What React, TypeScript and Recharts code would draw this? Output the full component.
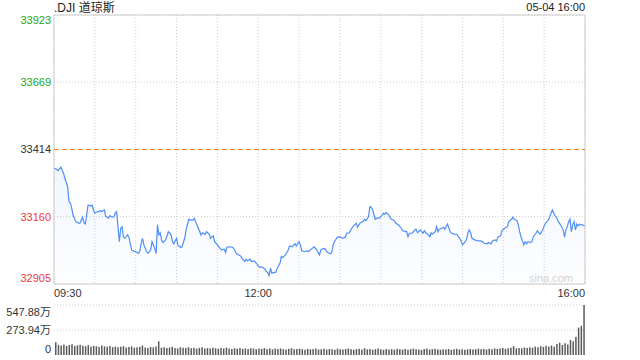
import React from 'react';
import {
  AreaChart,
  Area,
  XAxis,
  YAxis,
  CartesianGrid,
  ReferenceLine,
  ReferenceArea,
  BarChart,
  Bar,
} from 'recharts';

const FONT = 'Arial, "Liberation Sans", "Noto Sans CJK SC", sans-serif';
const GREEN = '#22a722';
const RED = '#f03a3a';
const DARK = '#333333';
const LINE = '#4e8ef7';

const titleText = '.DJI 道琼斯';
const dateText = '05-04 16:00';
const watermark = 'sina.com';

const prevClose = 33414;
const priceTicks = [32905, 33160, 33414, 33669, 33923];
const gridMinutes = [0, 30, 60, 90, 120, 150, 180, 210, 240, 270, 300, 330, 360, 390];
const timeLabelMinutes = [0, 150, 390];
const timeLabels = ['09:30', '12:00', '16:00'];
const volumeTicks = [0, 273.94, 547.88];

const priceMinutes = [
  0, 2, 3, 5, 7, 8, 10, 11, 12, 13, 14, 16, 18, 19, 21, 22, 23, 24, 25, 27, 28, 29, 30, 32, 33, 34, 35, 37, 38, 39,
  40, 41, 43, 44, 45, 46, 47, 48, 49, 50, 51, 52, 54, 55, 57, 59, 60, 62, 63, 64, 65, 66, 68, 69, 71, 72, 74, 75, 76, 77,
  78, 79, 80, 82, 84, 86, 87, 88, 90, 91, 93, 94, 96, 97, 99, 100, 102, 103, 104, 106, 108, 109, 111, 112, 114, 115, 116, 117, 118, 120,
  122, 123, 125, 126, 127, 129, 131, 132, 134, 137, 138, 140, 141, 142, 144, 145, 147, 149, 150, 151, 153, 155, 156, 157, 158, 159, 160, 161, 163, 164,
  166, 167, 168, 170, 172, 173, 175, 177, 178, 180, 181, 182, 184, 186, 187, 189, 191, 193, 195, 196, 198, 199, 201, 203, 204, 205, 206, 208, 210, 212,
  214, 215, 217, 218, 219, 220, 222, 223, 224, 225, 227, 228, 229, 231, 232, 233, 234, 236, 237, 239, 241, 242, 243, 244, 246, 247, 248, 250, 251, 253,
  255, 256, 258, 259, 260, 261, 263, 264, 265, 266, 267, 269, 270, 271, 272, 273, 275, 276, 277, 278, 280, 281, 282, 283, 285, 286, 287, 288, 289, 291,
  292, 294, 296, 297, 298, 299, 300, 302, 303, 304, 305, 306, 307, 309, 311, 314, 316, 318, 319, 321, 322, 324, 325, 326, 328, 329, 331, 333, 334, 336,
  337, 338, 340, 341, 342, 343, 344, 345, 346, 347, 348, 350, 351, 352, 354, 355, 356, 357, 359, 360, 361, 363, 364, 365, 366, 368, 369, 370, 371, 372,
  374, 375, 376, 377, 378, 379, 380, 381, 382, 383, 384, 385, 386, 387, 388, 390,
];

const priceValues = [
  33343, 33339, 33334, 33347, 33324, 33305, 33274, 33217, 33211, 33192, 33166, 33141, 33135, 33135, 33158, 33137, 33132, 33166, 33204, 33200, 33204, 33185, 33173, 33179, 33179, 33183, 33179, 33185, 33160, 33158,
  33154, 33163, 33158, 33160, 33173, 33179, 33122, 33065, 33116, 33122, 33082, 33078, 33091, 33082, 33034, 33028, 33028, 33021, 33028, 33059, 33078, 33053, 33028, 33021, 33034, 33065, 33040, 33021, 33129, 33091,
  33099, 33072, 33062, 33072, 33103, 33091, 33065, 33057, 33078, 33053, 33043, 33046, 33078, 33110, 33150, 33147, 33147, 33154, 33141, 33116, 33091, 33099, 33093, 33103, 33094, 33078, 33084, 33087, 33065, 33053,
  33040, 33034, 33037, 33024, 33044, 33046, 33044, 33040, 33019, 33011, 33003, 32990, 32999, 32993, 32999, 32990, 32992, 32981, 32973, 32969, 32969, 32961, 32952, 32948, 32937, 32965, 32946, 32948, 32950, 32965,
  32984, 33009, 33005, 33015, 33034, 33049, 33046, 33057, 33049, 33065, 33053, 33030, 33028, 33030, 33028, 33037, 33046, 33034, 33015, 33034, 33040, 33038, 33024, 33019, 33024, 33053, 33065, 33082, 33084, 33078,
  33082, 33097, 33099, 33110, 33118, 33125, 33135, 33120, 33129, 33137, 33141, 33150, 33145, 33160, 33198, 33196, 33185, 33150, 33154, 33154, 33166, 33173, 33169, 33175, 33166, 33154, 33150, 33145, 33135, 33129,
  33116, 33107, 33103, 33103, 33084, 33097, 33097, 33103, 33110, 33112, 33099, 33110, 33103, 33097, 33107, 33099, 33091, 33084, 33099, 33094, 33103, 33122, 33103, 33112, 33116, 33120, 33112, 33122, 33132, 33103,
  33097, 33094, 33093, 33084, 33078, 33068, 33053, 33065, 33074, 33099, 33110, 33099, 33078, 33072, 33069, 33067, 33059, 33057, 33062, 33057, 33068, 33072, 33068, 33082, 33087, 33107, 33116, 33122, 33141, 33150,
  33158, 33150, 33145, 33129, 33103, 33084, 33069, 33053, 33065, 33057, 33065, 33062, 33065, 33084, 33097, 33107, 33099, 33094, 33110, 33125, 33135, 33147, 33158, 33173, 33185, 33163, 33158, 33145, 33137, 33129,
  33110, 33082, 33110, 33122, 33141, 33150, 33103, 33129, 33141, 33110, 33132, 33125, 33131, 33129, 33129, 33125,
];

// volume in 万, one bar every two minutes from 09:30
const volumeValues = [
  140, 112, 104, 116, 100, 110, 118, 98, 106, 112,
  102, 96, 108, 92, 100, 96, 88, 104, 94, 90,
  98, 86, 92, 84, 90, 96, 82, 88, 94, 80,
  86, 90, 104, 82, 78, 88, 84, 92, 150, 80,
  86, 76, 82, 90, 78, 72, 84, 80, 76, 86,
  74, 80, 70, 78, 84, 72, 76, 70, 80, 74,
  68, 76, 72, 82, 70, 66, 74, 70, 78, 68,
  72, 66, 74, 70, 64, 72, 68, 76, 66, 70,
  62, 70, 66, 72, 64, 60, 68, 74, 62, 66,
  70, 64, 58, 68, 62, 66, 72, 60, 64, 68,
  60, 66, 62, 58, 70, 64, 60, 66, 72, 62,
  58, 64, 68, 60, 74, 62, 66, 58, 64, 70,
  62, 56, 66, 60, 64, 58, 68, 62, 60, 66,
  58, 64, 70, 62, 60, 56, 66, 72, 60, 64,
  68, 62, 58, 64, 60, 66, 56, 62, 68, 60,
  64, 58, 62, 66, 60, 64, 70, 62, 66, 60,
  68, 64, 72, 66, 70, 76, 68, 74, 80, 96,
  72, 78, 74, 82, 78, 86, 80, 92, 84, 96,
  88, 100, 94, 105, 90, 120, 135, 110, 130, 115,
  165, 150, 200, 300, 320, 547.88,
];

const priceData = priceMinutes.map((m, i) => ({ m, p: priceValues[i] }));
const volumeData = volumeValues.map((v, i) => ({ m: i * 2, v }));
const gridPriceValues = priceTicks.filter((t) => t !== prevClose);

const pctLabel = (v: number) => {
  const pct = ((v - prevClose) / prevClose) * 100;
  const s = pct.toFixed(2);
  return pct > 0.0001 ? `+${s}%` : pct < -0.0001 ? `${s}%` : '0.00%';
};

const colorFor = (v: number) => (v > prevClose ? GREEN : v < prevClose ? RED : DARK);

const edgeShift = (v: number, ticks: number[], top: number, bottom: number) =>
  v === ticks[ticks.length - 1] ? top : v === ticks[0] ? bottom : 0;

const LeftPriceTick = (props: any) => {
  const { x, y, payload } = props;
  const v = payload.value as number;
  return (
    <text x={x} y={y + edgeShift(v, priceTicks, 5, -6)} dy="0.355em" textAnchor="end" fill={colorFor(v)} fontSize={11} fontFamily={FONT}>
      {v}
    </text>
  );
};

const RightPriceTick = (props: any) => {
  const { x, y, payload } = props;
  const v = payload.value as number;
  return (
    <text x={x} y={y + edgeShift(v, priceTicks, 5, -6)} dy="0.355em" textAnchor="start" fill={colorFor(v)} fontSize={11} fontFamily={FONT}>
      {pctLabel(v)}
    </text>
  );
};

const TimeTick = (props: any) => {
  const { x, y, payload } = props;
  const idx = timeLabelMinutes.indexOf(payload.value);
  if (idx < 0) return <g />;
  const anchor = idx === 0 ? 'start' : idx === timeLabelMinutes.length - 1 ? 'end' : 'middle';
  return (
    <text x={x} y={y + 9} dy="0.355em" textAnchor={anchor} fill={DARK} fontSize={11} fontFamily={FONT}>
      {timeLabels[idx]}
    </text>
  );
};

const VolumeTick = (props: any) => {
  const { x, y, payload } = props;
  const v = payload.value as number;
  const label = v === 0 ? '0' : `${v.toFixed(2)}万`;
  return (
    <text x={x} y={y + edgeShift(v, volumeTicks, 7, -6)} dy="0.355em" textAnchor="end" fill={DARK} fontSize={11} fontFamily={FONT}>
      {label}
    </text>
  );
};

export default function App() {
  return (
    <div style={{ position: 'absolute', left: 0, top: 0, width: 640, height: 360, background: '#fff', fontFamily: FONT, overflow: 'hidden' }}>
      <div style={{ position: 'absolute', left: 54, top: 1, fontSize: 12, lineHeight: '14px', color: '#222', whiteSpace: 'nowrap' }}>{titleText}</div>
      <div style={{ position: 'absolute', right: 55, top: 1, fontSize: 11, lineHeight: '13px', color: '#222', whiteSpace: 'nowrap' }}>{dateText}</div>

      <div style={{ position: 'absolute', left: 0, top: 0 }}>
        <AreaChart width={640} height={300} data={priceData} margin={{ top: 15, right: 0, bottom: 0, left: 0 }}>
          <defs>
            <linearGradient id="priceFill" x1="0" y1="0" x2="0" y2="1">
              <stop offset="0" stopColor={LINE} stopOpacity={0.14} />
              <stop offset="1" stopColor={LINE} stopOpacity={0.02} />
            </linearGradient>
          </defs>
          <CartesianGrid stroke="#cfcfcf" strokeDasharray="1 2" yAxisId="left" horizontalValues={gridPriceValues} />
          <XAxis
            dataKey="m"
            type="number"
            domain={[0, 390]}
            ticks={gridMinutes}
            interval={0}
            tick={<TimeTick />}
            tickLine={false}
            axisLine={false}
            tickSize={0}
            tickMargin={0}
            height={16}
          />
          <YAxis
            yAxisId="left"
            orientation="left"
            domain={[priceTicks[0], priceTicks[priceTicks.length - 1]]}
            ticks={priceTicks}
            interval={0}
            width={54}
            tick={<LeftPriceTick />}
            tickLine={false}
            axisLine={false}
            tickSize={0}
            tickMargin={3}
          />
          <YAxis
            yAxisId="right"
            orientation="right"
            domain={[priceTicks[0], priceTicks[priceTicks.length - 1]]}
            ticks={priceTicks}
            interval={0}
            width={55}
            tick={<RightPriceTick />}
            tickLine={false}
            axisLine={false}
            tickSize={0}
            tickMargin={5}
          />
          <Area
            yAxisId="left"
            type="linear"
            dataKey="p"
            stroke={LINE}
            strokeWidth={1.2}
            fill="url(#priceFill)"
            isAnimationActive={false}
            dot={false}
            activeDot={false}
          />
          <ReferenceLine yAxisId="left" y={prevClose} stroke="#f07f1c" strokeWidth={1} strokeDasharray="5 3" />
          <ReferenceArea
            yAxisId="left"
            x1={0}
            x2={390}
            y1={priceTicks[0]}
            y2={priceTicks[priceTicks.length - 1]}
            fill="none"
            stroke="#cccccc"
            fillOpacity={0}
          />
        </AreaChart>
      </div>

      <div style={{ position: 'absolute', right: 67, top: 272, fontSize: 11, lineHeight: '13px', color: '#d2d2d2', whiteSpace: 'nowrap' }}>{watermark}</div>

      <div style={{ position: 'absolute', left: 0, top: 295 }}>
        <BarChart width={640} height={62} data={volumeData} margin={{ top: 10, right: 55, bottom: 2, left: 0 }} barCategoryGap={0}>
          <XAxis dataKey="m" hide />
          <YAxis
            domain={[0, volumeTicks[volumeTicks.length - 1]]}
            ticks={volumeTicks}
            interval={0}
            width={54}
            tick={<VolumeTick />}
            tickLine={false}
            axisLine={false}
            tickSize={0}
            tickMargin={3}
          />
          <ReferenceLine y={volumeTicks[2]} stroke="#cfcfcf" strokeDasharray="1 2" />
          <ReferenceLine y={volumeTicks[1]} stroke="#cfcfcf" strokeDasharray="1 2" />
          <Bar dataKey="v" fill="#5a5a5a" barSize={1.5} isAnimationActive={false} />
        </BarChart>
      </div>
    </div>
  );
}
